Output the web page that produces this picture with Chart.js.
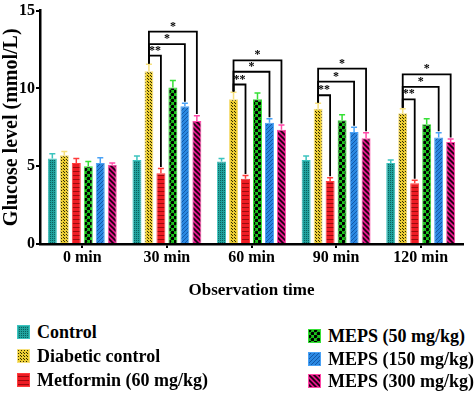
<!DOCTYPE html>
<html>
<head>
<meta charset="utf-8">
<script src="https://cdn.jsdelivr.net/npm/chart.js@4/dist/chart.umd.min.js"></script>
<style>
  body { margin: 0; background: #fff; }
  #wrap { position: relative; width: 474px; height: 396px; overflow: hidden; }
  #box { position: absolute; left: 0; top: 0; width: 474px; height: 305px; }
  .lg { position: absolute; display: flex; align-items: center; font: bold 18px 'Liberation Serif', serif; color: #000; white-space: nowrap; }
  .lg canvas { width: 13px; height: 14px; margin-right: 7px; }
</style>
</head>
<body>
<div id="wrap">
  <div id="box"><canvas id="chart"></canvas></div>
  <div id="legend"></div>
</div>
<script>
// ---- data ----
const categories = ['0 min', '30 min', '60 min', '90 min', '120 min'];
const seriesNames = ['Control', 'Diabetic control', 'Metformin (60 mg/kg)', 'MEPS (50 mg/kg)', 'MEPS (150 mg/kg)', 'MEPS (300 mg/kg)'];

const control   = [5.5, 5.4, 5.3, 5.4, 5.2];
const diabetic  = [5.7, 11.1, 9.3, 8.7, 8.4];
const metformin = [5.2, 4.55, 4.2, 4.05, 3.9];
const meps50    = [5.0, 10.05, 9.3, 7.95, 7.7];
const meps150   = [5.2, 8.85, 7.8, 7.2, 6.85];
const meps300   = [5.1, 7.9, 7.35, 6.8, 6.55];

const controlErr   = [0.3, 0.25, 0.2, 0.25, 0.2];
const diabeticErr  = [0.25, 0.45, 0.45, 0.35, 0.3];
const metforminErr = [0.3, 0.3, 0.2, 0.2, 0.2];
const meps50Err    = [0.3, 0.45, 0.4, 0.35, 0.35];
const meps150Err   = [0.35, 0.2, 0.25, 0.3, 0.3];
const meps300Err   = [0.1, 0.35, 0.3, 0.35, 0.2];

const yTicks = [0, 5, 10, 15];

// significance brackets: Diabetic control vs. Metformin / MEPS 150 / MEPS 300
const bracketTargets = [2, 4, 5];
const bracketLabels  = ['**', '*', '*'];
const bracketLow  = [null, 12.1, 10.25, 9.56, 9.3];
const bracketMid  = [null, 12.85, 11.07, 10.44, 10.1];
const bracketHigh = [null, 13.65, 11.8, 11.27, 10.9];

// ---- patterns ----
function pattern(size, paint) {
  const c = document.createElement('canvas');
  c.width = size; c.height = size;
  paint(c.getContext('2d'), size);
  return c;
}
const tiles = [
  pattern(4, (g, s) => { g.fillStyle = '#20a39e'; g.fillRect(0, 0, s, s);
    g.fillStyle = '#0b615e'; g.fillRect(0, 0, 1, 1); g.fillRect(2, 2, 1, 1); g.fillRect(2, 0, 1, 1); g.fillRect(0, 2, 1, 1); }),
  pattern(3, (g, s) => { g.fillStyle = '#eccd34'; g.fillRect(0, 0, s, s);
    g.fillStyle = '#2e2a00'; g.fillRect(1, 1, 1, 1); g.fillRect(0, 0, 1, 1); }),
  pattern(4, (g, s) => { g.fillStyle = '#ee1c24'; g.fillRect(0, 0, s, s);
    g.fillStyle = '#9c0a0e'; g.fillRect(0, 3, s, 1); }),
  pattern(6, (g, s) => { g.fillStyle = '#1ec81e'; g.fillRect(0, 0, s, s);
    g.fillStyle = '#000'; g.beginPath(); g.arc(1.5, 1.5, 1.8, 0, 7); g.fill();
    g.beginPath(); g.arc(4.5, 4.5, 1.8, 0, 7); g.fill(); }),
  pattern(4, (g, s) => { g.fillStyle = '#2a88e2'; g.fillRect(0, 0, s, s);
    g.strokeStyle = '#1258a8'; g.lineWidth = 1;
    g.beginPath(); g.moveTo(0, 4); g.lineTo(4, 0); g.moveTo(-1, 1); g.lineTo(1, -1); g.moveTo(3, 5); g.lineTo(5, 3); g.stroke(); }),
  pattern(5, (g, s) => { g.fillStyle = '#e4168a'; g.fillRect(0, 0, s, s);
    g.strokeStyle = '#1a0010'; g.lineWidth = 1.6;
    g.beginPath(); g.moveTo(0, 0); g.lineTo(5, 5); g.moveTo(-1, 4); g.lineTo(1, 6); g.moveTo(4, -1); g.lineTo(6, 1); g.stroke(); })
];
const edgeColors = ['#3cc4bf', '#f6e07c', '#ff3c3c', '#36e036', '#4aa2f6', '#ff48a8'];

const ctx = document.getElementById('chart').getContext('2d');
const fills = tiles.map(t => ctx.createPattern(t, 'repeat'));

const values = [control, diabetic, metformin, meps50, meps150, meps300];
const errors = [controlErr, diabeticErr, metforminErr, meps50Err, meps150Err, meps300Err];

// ---- plugins ----
const errorBars = {
  id: 'errorBars',
  afterDatasetsDraw(chart) {
    const g = chart.ctx, y = chart.scales.y;
    chart.data.datasets.forEach((ds, i) => {
      chart.getDatasetMeta(i).data.forEach((bar, j) => {
        const top = y.getPixelForValue(ds.data[j] + errors[i][j]);
        g.save();
        g.strokeStyle = edgeColors[i];
        g.lineWidth = 1.5;
        g.beginPath();
        g.moveTo(bar.x, bar.y); g.lineTo(bar.x, top);
        g.moveTo(bar.x - 3, top); g.lineTo(bar.x + 3, top);
        g.stroke();
        g.restore();
      });
    });
  }
};

const brackets = {
  id: 'brackets',
  afterDatasetsDraw(chart) {
    const g = chart.ctx, y = chart.scales.y;
    const levels = [bracketLow, bracketMid, bracketHigh];
    const ref = chart.getDatasetMeta(1).data;
    g.save();
    g.strokeStyle = '#000';
    g.lineWidth = 1.8;
    g.fillStyle = '#000';
    g.font = 'bold 12px "Liberation Serif", serif';
    g.textAlign = 'center';
    g.textBaseline = 'bottom';
    categories.forEach((c, j) => {
      if (bracketLow[j] == null) return;
      const x0 = ref[j].x;
      const y0 = y.getPixelForValue(diabetic[j] + diabeticErr[j] + 0.05);
      bracketTargets.forEach((t, k) => {
        const x1 = chart.getDatasetMeta(t).data[j].x;
        const y1 = y.getPixelForValue(values[t][j] + errors[t][j] + 0.1);
        const yl = y.getPixelForValue(levels[k][j]);
        g.beginPath();
        g.moveTo(x0, y0); g.lineTo(x0, yl); g.lineTo(x1, yl); g.lineTo(x1, y1);
        g.stroke();
        g.fillText(bracketLabels[k], (x0 + x1) / 2, yl + 1);
      });
    });
    g.restore();
  }
};

// ---- chart ----
const font = (size) => ({ family: "'Liberation Serif', serif", weight: 'bold', size });

new Chart(ctx, {
  type: 'bar',
  data: {
    labels: categories,
    datasets: seriesNames.map((name, i) => ({
      label: name,
      data: values[i],
      backgroundColor: fills[i],
      borderColor: edgeColors[i],
      borderWidth: 1,
      categoryPercentage: 0.85,
      barPercentage: 0.75
    }))
  },
  options: {
    responsive: true,
    maintainAspectRatio: false,
    animation: false,
    layout: { padding: { top: 8, right: 11, left: 0, bottom: 0 } },
    plugins: { legend: { display: false }, tooltip: { enabled: false } },
    scales: {
      x: {
        grid: { offset: false, drawOnChartArea: false, color: '#000', lineWidth: 2, tickLength: 4 },
        border: { color: '#000', width: 2.5 },
        ticks: { color: '#000', font: font(16), padding: 0 },
        title: { display: true, text: 'Observation time', color: '#000', font: font(17), padding: { top: 4, bottom: 4 } },
        afterFit: s => { s.height = 61; }
      },
      y: {
        min: 0,
        max: 15,
        afterBuildTicks: s => { s.ticks = yTicks.map(v => ({ value: v })); },
        grid: { drawOnChartArea: false, color: '#000', lineWidth: 2, tickLength: 4 },
        border: { color: '#000', width: 2.5 },
        ticks: { color: '#000', font: font(16), padding: 1 },
        title: { display: true, text: 'Glucose level (mmol/L)', color: '#000', font: font(20), padding: 0 },
        afterFit: s => { s.width = 40; }
      }
    }
  },
  plugins: [errorBars, brackets]
});

// ---- legend ----
const legendSpots = [[17, 332], [17, 356], [17, 380], [308, 336], [308, 359], [308, 381]];
const legendEl = document.getElementById('legend');
seriesNames.forEach((name, i) => {
  const item = document.createElement('div');
  item.className = 'lg';
  item.style.left = legendSpots[i][0] + 'px';
  item.style.top = (legendSpots[i][1] - 10) + 'px';
  item.style.height = '20px';
  const sw = document.createElement('canvas');
  sw.width = 13; sw.height = 14;
  const sg = sw.getContext('2d');
  sg.fillStyle = sg.createPattern(tiles[i], 'repeat');
  sg.fillRect(0, 0, 13, 14);
  sg.strokeStyle = edgeColors[i];
  sg.strokeRect(0.5, 0.5, 12, 13);
  item.appendChild(sw);
  item.appendChild(document.createTextNode(name));
  legendEl.appendChild(item);
});
</script>
</body>
</html>
